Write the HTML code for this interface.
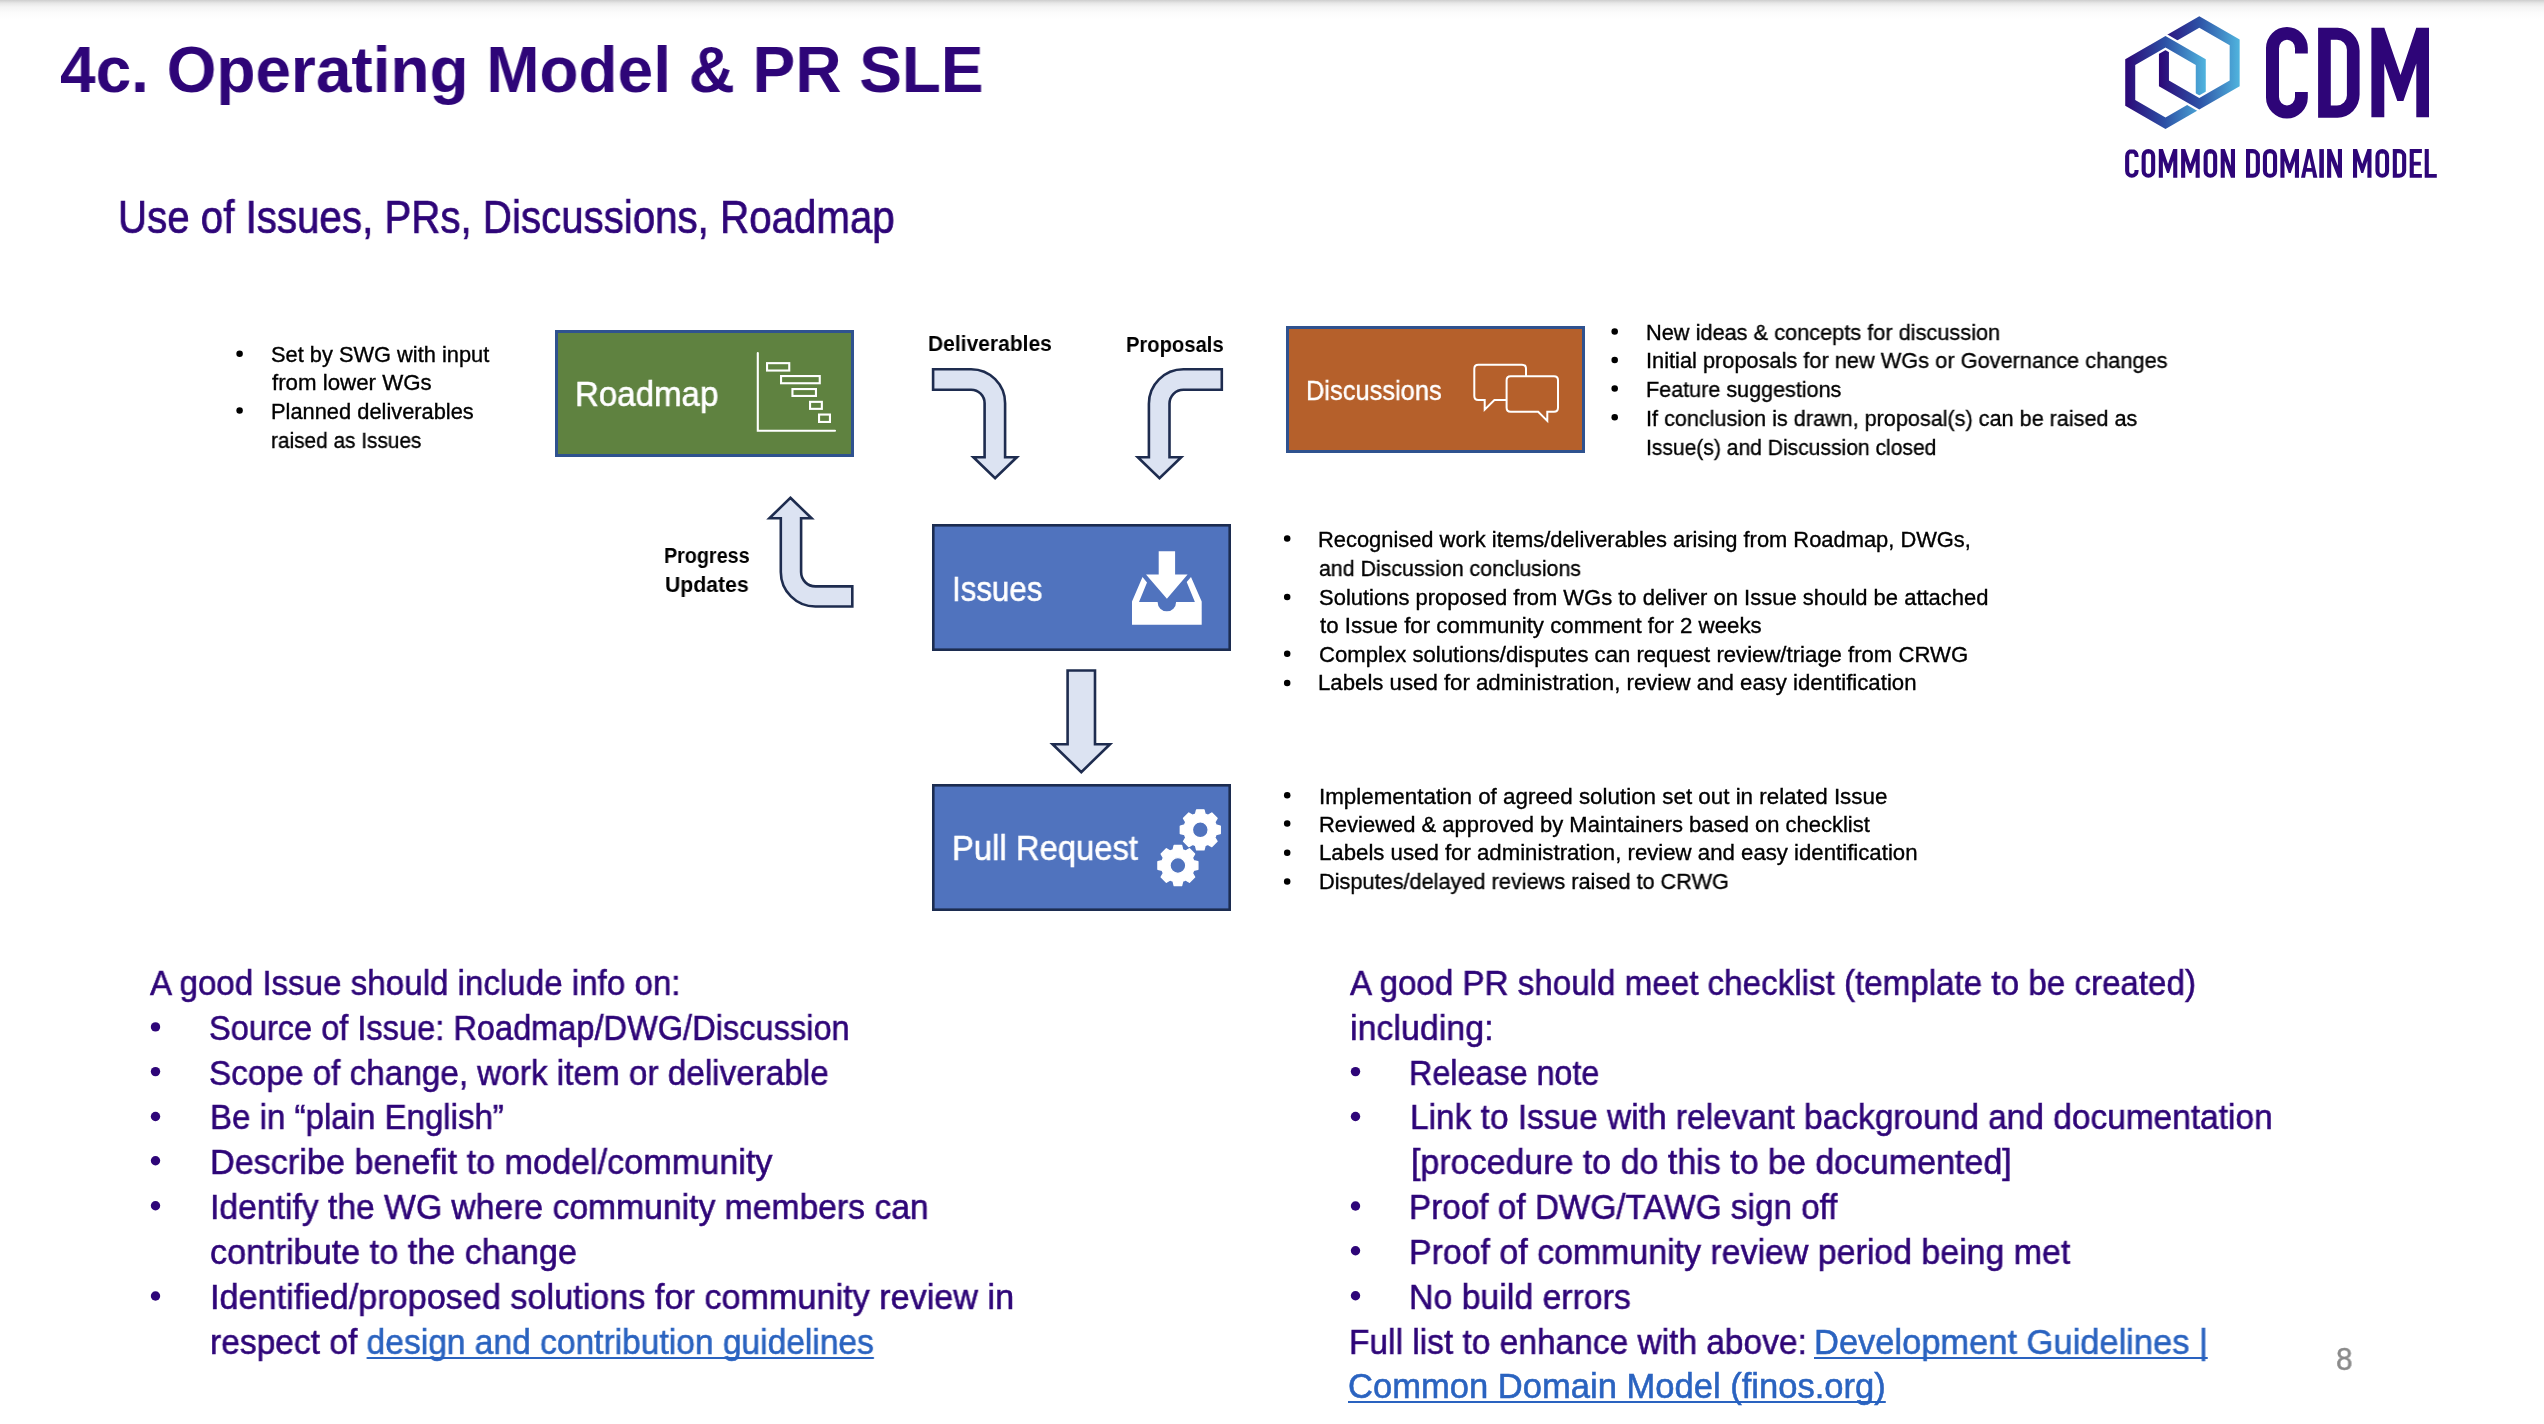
<!DOCTYPE html><html><head><meta charset="utf-8"><style>
html,body{margin:0;padding:0;background:#fff;}
body{width:2544px;height:1424px;overflow:hidden;position:relative;font-family:'Liberation Sans', sans-serif;}
.t{position:absolute;white-space:pre;transform-origin:0 0;will-change:transform;}
.lk{color:#2a63c0;text-decoration:underline;text-decoration-thickness:2px;text-underline-offset:3px;text-decoration-skip-ink:none;}
.b{position:absolute;border-radius:50%;}
#sh{position:absolute;left:0;top:0;width:2544px;height:20px;background:linear-gradient(#cdcdcd 0px,#e6e6e6 3px,#f4f4f4 7px,#fcfcfc 13px,#ffffff 20px);}
</style></head><body>
<div id="sh"></div>
<svg width="2544" height="1424" viewBox="0 0 2544 1424" style="position:absolute;left:0;top:0">
<defs>
<linearGradient id="g1" x1="0" y1="0" x2="1" y2="0"><stop offset="0" stop-color="#2c0777"/><stop offset="0.5" stop-color="#2d52a6"/><stop offset="1" stop-color="#50b4de"/></linearGradient>
<clipPath id="cpA"><polygon points="2150,20 2215,20 2215,75 2150,75"/></clipPath>
</defs>
<rect x="556.5" y="331.5" width="296" height="124" fill="#5f8240" stroke="#2f528f" stroke-width="3"/>
<rect x="1287.5" y="327.5" width="296" height="124" fill="#b5602b" stroke="#2f528f" stroke-width="3"/>
<rect x="933.3" y="525.3" width="296.4" height="124.4" fill="#5073be" stroke="#1c2c50" stroke-width="2.6"/>
<rect x="933.3" y="785.3" width="296.4" height="124.4" fill="#5073be" stroke="#1c2c50" stroke-width="2.6"/>
<path fill="#dce3f2" stroke="#1e2c4f" stroke-width="2.6" stroke-linejoin="miter" d="M 933.1 369.2 L 971.1 369.2 A 34 34 0 0 1 1005.1 403.2 L 1005.1 457.3 L 1016.8 457.3 L 995.1 478.3 L 973.4 457.3 L 984.6 457.3 L 984.6 403.2 A 13.5 13.5 0 0 0 971.1 389.7 L 933.1 389.7 Z"/>
<path fill="#dce3f2" stroke="#1e2c4f" stroke-width="2.6" stroke-linejoin="miter" d="M 1221.8 369.2 L 1183.4 369.2 A 34.5 34.5 0 0 0 1148.9 403.7 L 1148.9 457.3 L 1137.8 457.3 L 1159.5 478.3 L 1181.2 457.3 L 1169.5 457.3 L 1169.5 403.7 A 13.9 13.9 0 0 1 1183.4 389.7 L 1221.8 389.7 Z"/>
<path fill="#dce3f2" stroke="#1e2c4f" stroke-width="2.6" stroke-linejoin="miter" d="M 790.4 497.8 L 811.6 518.3 L 801.1 518.3 L 801.1 572.1 A 14.3 14.3 0 0 0 815.4 586.4 L 852.3 586.4 L 852.3 606.5 L 815.4 606.5 A 34.6 34.6 0 0 1 780.8 571.9 L 780.8 518.3 L 769.4 518.3 Z"/>
<path fill="#dce3f2" stroke="#1e2c4f" stroke-width="2.6" stroke-linejoin="miter" d="M 1067.6 670.5 L 1095 670.5 L 1095 744.3 L 1110 744.3 L 1081.3 772.1 L 1052.6 744.3 L 1067.6 744.3 Z"/>
<g fill="none" stroke="#fff" stroke-width="2.1">
<path d="M 757.8 353 V 430.8 H 835" stroke-linecap="round"/>
<rect x="767.05" y="363.15" width="22.20" height="7.40"/>
<rect x="781.05" y="376.05" width="38.70" height="7.20"/>
<rect x="792.45" y="389.05" width="23.50" height="6.90"/>
<rect x="810.05" y="401.85" width="11.80" height="7.00"/>
<rect x="819.05" y="414.55" width="10.90" height="7.40"/>
</g>
<g stroke="#fff" stroke-width="2" stroke-linejoin="miter">
<path fill="none" d="M 1478.3 364.7 H 1522 Q 1526 364.7 1526 368.7 V 396 Q 1526 400 1522 400 H 1494.4 L 1484.7 409.7 V 400 H 1478.3 Q 1474.3 400 1474.3 396 V 368.7 Q 1474.3 364.7 1478.3 364.7 Z"/>
<path fill="#b5602b" d="M 1510.6 376.2 H 1554 Q 1558 376.2 1558 380.2 V 407.8 Q 1558 411.8 1554 411.8 H 1547.3 V 420.9 L 1538.2 411.8 H 1510.6 Q 1506.6 411.8 1506.6 407.8 V 380.2 Q 1506.6 376.2 1510.6 376.2 Z"/>
</g>
<path fill="#fff" d="M 1158.7 551.2 H 1175.1 V 574.6 H 1187.6 L 1166.9 598.8 L 1146 574.6 H 1158.7 Z"/>
<path fill="#fff" d="M 1142.5 577.1 L 1132 601.6 V 624.8 H 1201.7 V 601.6 L 1191 577.1 L 1186.7 581.9 L 1194.9 602.1 H 1176.1 A 9.25 9.25 0 0 1 1157.6 602.1 H 1139 L 1147 582.5 Z"/>
<path fill="#fff" stroke="#fff" stroke-width="1.4" stroke-linejoin="round" fill-rule="evenodd" d="M 1194.02 814.65 L 1195.51 814.12 L 1196.60 809.84 L 1204.00 809.84 L 1205.09 814.12 L 1206.58 814.65 L 1208.00 815.32 L 1211.80 813.07 L 1217.03 818.30 L 1214.78 822.10 L 1215.45 823.52 L 1215.98 825.01 L 1220.26 826.10 L 1220.26 833.50 L 1215.98 834.59 L 1215.45 836.08 L 1214.78 837.50 L 1217.03 841.30 L 1211.80 846.53 L 1208.00 844.28 L 1206.58 844.95 L 1205.09 845.48 L 1204.00 849.76 L 1196.60 849.76 L 1195.51 845.48 L 1194.02 844.95 L 1192.60 844.28 L 1188.80 846.53 L 1183.57 841.30 L 1185.82 837.50 L 1185.15 836.08 L 1184.62 834.59 L 1180.34 833.50 L 1180.34 826.10 L 1184.62 825.01 L 1185.15 823.52 L 1185.82 822.10 L 1183.57 818.30 L 1188.80 813.07 L 1192.60 815.32 Z M 1208.20 829.80 A 7.9 7.9 0 1 0 1192.40 829.80 A 7.9 7.9 0 1 0 1208.20 829.80 Z"/>
<path fill="#fff" stroke="#fff" stroke-width="1.4" stroke-linejoin="round" fill-rule="evenodd" d="M 1171.62 850.35 L 1173.11 849.82 L 1174.20 845.54 L 1181.60 845.54 L 1182.69 849.82 L 1184.18 850.35 L 1185.60 851.02 L 1189.40 848.77 L 1194.63 854.00 L 1192.38 857.80 L 1193.05 859.22 L 1193.58 860.71 L 1197.86 861.80 L 1197.86 869.20 L 1193.58 870.29 L 1193.05 871.78 L 1192.38 873.20 L 1194.63 877.00 L 1189.40 882.23 L 1185.60 879.98 L 1184.18 880.65 L 1182.69 881.18 L 1181.60 885.46 L 1174.20 885.46 L 1173.11 881.18 L 1171.62 880.65 L 1170.20 879.98 L 1166.40 882.23 L 1161.17 877.00 L 1163.42 873.20 L 1162.75 871.78 L 1162.22 870.29 L 1157.94 869.20 L 1157.94 861.80 L 1162.22 860.71 L 1162.75 859.22 L 1163.42 857.80 L 1161.17 854.00 L 1166.40 848.77 L 1170.20 851.02 Z M 1185.80 865.50 A 7.9 7.9 0 1 0 1170.00 865.50 A 7.9 7.9 0 1 0 1185.80 865.50 Z"/>
<path fill="url(#g1)" fill-rule="evenodd" d="M 2165.50 36.00 L 2205.77 59.25 L 2205.77 105.75 L 2165.50 129.00 L 2125.23 105.75 L 2125.23 59.25 Z M 2135.23 65.02 L 2135.23 99.98 L 2165.50 117.45 L 2195.77 99.98 L 2195.77 65.02 L 2165.50 47.55 Z"/>
<path fill="url(#g1)" fill-rule="evenodd" stroke="#fff" stroke-width="4.4" paint-order="stroke" d="M 2199.30 16.30 L 2239.66 39.60 L 2239.66 86.20 L 2199.30 109.50 L 2158.94 86.20 L 2158.94 39.60 Z M 2168.94 45.37 L 2168.94 80.43 L 2199.30 97.95 L 2229.66 80.43 L 2229.66 45.37 L 2199.30 27.85 Z"/>
<g clip-path="url(#cpA)"><path fill="url(#g1)" fill-rule="evenodd" stroke="#fff" stroke-width="4.4" paint-order="stroke" d="M 2165.50 36.00 L 2205.77 59.25 L 2205.77 105.75 L 2165.50 129.00 L 2125.23 105.75 L 2125.23 59.25 Z M 2135.23 65.02 L 2135.23 99.98 L 2165.50 117.45 L 2195.77 99.98 L 2195.77 65.02 L 2165.50 47.55 Z"/></g>
<path fill="#2e0578" fill-rule="evenodd" d="M 2307.8 53.6 V 48 A 20.9 21 0 0 0 2266 48 V 97.5 A 20.9 21 0 0 0 2307.8 97.5 V 91.9 H 2295 V 97 A 8 8.5 0 0 1 2279 97 V 48.5 A 8 8.7 0 0 1 2295 48.5 V 53.6 Z"/>
<path fill="#2e0578" fill-rule="evenodd" d="M 2318.1 27.7 H 2337.6 A 22 23 0 0 1 2359.6 50.7 V 94.7 A 22 23 0 0 1 2337.6 117.7 H 2318.1 Z M 2330.8 39.8 H 2337 A 9.9 10 0 0 1 2346.9 49.8 V 95.5 A 9.9 10 0 0 1 2337 105.5 H 2330.8 Z"/>
<path fill="#2e0578" d="M 2371.4 117.3 V 27.7 H 2384.3 L 2400.5 74.9 L 2416.3 27.7 H 2429 V 117.3 H 2416.3 V 63.5 L 2403.4 101.1 H 2397.3 L 2384.3 63.5 V 117.3 Z"/>
<g fill="#2e0578" fill-rule="evenodd">
<path d="M 2138.6 156.9 V 155.9 A 6.8 6.8 0 0 0 2131.7999999999997 149.1 H 2131.9 A 6.8 6.8 0 0 0 2125.1 155.9 V 171.0 A 6.8 6.8 0 0 0 2131.9 177.8 H 2131.7999999999997 A 6.8 6.8 0 0 0 2138.6 171.0 V 170.1 H 2134.5 V 170.9 A 2.8 2.8 0 0 1 2131.7 173.70000000000002 H 2132.0 A 2.8 2.8 0 0 1 2129.2 170.9 V 156.0 A 2.8 2.8 0 0 1 2132.0 153.2 H 2131.7 A 2.8 2.8 0 0 1 2134.5 156.0 V 156.9 Z"/>
<path d="M 2148.4 149.1 H 2148.3999999999996 A 6.8 6.8 0 0 1 2155.2 155.9 V 171.0 A 6.8 6.8 0 0 1 2148.3999999999996 177.8 H 2148.4 A 6.8 6.8 0 0 1 2141.6 171.0 V 155.9 A 6.8 6.8 0 0 1 2148.4 149.1 Z M 2148.5 153.2 H 2148.2999999999997 A 2.8 2.8 0 0 1 2151.1 156.0 V 170.9 A 2.8 2.8 0 0 1 2148.2999999999997 173.70000000000002 H 2148.5 A 2.8 2.8 0 0 1 2145.7 170.9 V 156.0 A 2.8 2.8 0 0 1 2148.5 153.2 Z"/>
<path d="M 2158.8 177.8 V 149.1 H 2162.9 L 2168.05 164 L 2173.2000000000003 149.1 H 2177.3 V 177.8 H 2173.2000000000003 V 160.8 L 2169.05 172.9 H 2167.05 L 2162.9 160.8 V 177.8 Z"/>
<path d="M 2181.1 177.8 V 149.1 H 2185.2 L 2190.3999999999996 164 L 2195.6 149.1 H 2199.7 V 177.8 H 2195.6 V 160.8 L 2191.3999999999996 172.9 H 2189.3999999999996 L 2185.2 160.8 V 177.8 Z"/>
<path d="M 2210.4 149.1 H 2210.3999999999996 A 6.8 6.8 0 0 1 2217.2 155.9 V 171.0 A 6.8 6.8 0 0 1 2210.3999999999996 177.8 H 2210.4 A 6.8 6.8 0 0 1 2203.6 171.0 V 155.9 A 6.8 6.8 0 0 1 2210.4 149.1 Z M 2210.5 153.2 H 2210.2999999999997 A 2.8 2.8 0 0 1 2213.1 156.0 V 170.9 A 2.8 2.8 0 0 1 2210.2999999999997 173.70000000000002 H 2210.5 A 2.8 2.8 0 0 1 2207.7 170.9 V 156.0 A 2.8 2.8 0 0 1 2210.5 153.2 Z"/>
<path d="M 2220.7 177.8 V 149.1 H 2224.7999999999997 L 2230.9 166 V 149.1 H 2235 V 177.8 H 2230.9 L 2224.7999999999997 160.8 V 177.8 Z"/>
<path d="M 2246 149.1 H 2252.9 A 7.0 7.0 0 0 1 2259.9 156.1 V 170.8 A 7.0 7.0 0 0 1 2252.9 177.8 H 2246 Z M 2250.1 153.2 H 2252.8 A 3.0 3.0 0 0 1 2255.8 156.2 V 170.70000000000002 A 3.0 3.0 0 0 1 2252.8 173.70000000000002 H 2250.1 Z"/>
<path d="M 2269.7000000000003 149.1 H 2270.2999999999997 A 6.8 6.8 0 0 1 2277.1 155.9 V 171.0 A 6.8 6.8 0 0 1 2270.2999999999997 177.8 H 2269.7000000000003 A 6.8 6.8 0 0 1 2262.9 171.0 V 155.9 A 6.8 6.8 0 0 1 2269.7000000000003 149.1 Z M 2269.8 153.2 H 2270.2 A 2.8 2.8 0 0 1 2273.0 156.0 V 170.9 A 2.8 2.8 0 0 1 2270.2 173.70000000000002 H 2269.8 A 2.8 2.8 0 0 1 2267.0 170.9 V 156.0 A 2.8 2.8 0 0 1 2269.8 153.2 Z"/>
<path d="M 2280.4 177.8 V 149.1 H 2284.5 L 2289.7 164 L 2294.9 149.1 H 2299 V 177.8 H 2294.9 V 160.8 L 2290.7 172.9 H 2288.7 L 2284.5 160.8 V 177.8 Z"/>
<path d="M 2301 177.8 L 2307.3999999999996 149.1 H 2311.0 L 2317.4 177.8 H 2313.3 L 2312.2000000000003 171.8 H 2306.1 L 2305.1 177.8 Z M 2309.2 157.3 L 2311.6 167.9 H 2306.8999999999996 Z"/>
<path d="M 2319.3 149.1 H 2323.9 V 177.8 H 2319.3 Z"/>
<path d="M 2327.1 177.8 V 149.1 H 2331.2 L 2337.9 166 V 149.1 H 2342 V 177.8 H 2337.9 L 2331.2 160.8 V 177.8 Z"/>
<path d="M 2353 177.8 V 149.1 H 2357.1 L 2362.25 164 L 2367.4 149.1 H 2371.5 V 177.8 H 2367.4 V 160.8 L 2363.25 172.9 H 2361.25 L 2357.1 160.8 V 177.8 Z"/>
<path d="M 2382.2000000000003 149.1 H 2382.2999999999997 A 6.8 6.8 0 0 1 2389.1 155.9 V 171.0 A 6.8 6.8 0 0 1 2382.2999999999997 177.8 H 2382.2000000000003 A 6.8 6.8 0 0 1 2375.4 171.0 V 155.9 A 6.8 6.8 0 0 1 2382.2000000000003 149.1 Z M 2382.3 153.2 H 2382.2 A 2.8 2.8 0 0 1 2385.0 156.0 V 170.9 A 2.8 2.8 0 0 1 2382.2 173.70000000000002 H 2382.3 A 2.8 2.8 0 0 1 2379.5 170.9 V 156.0 A 2.8 2.8 0 0 1 2382.3 153.2 Z"/>
<path d="M 2392.8 149.1 H 2399.2 A 7.0 7.0 0 0 1 2406.2 156.1 V 170.8 A 7.0 7.0 0 0 1 2399.2 177.8 H 2392.8 Z M 2396.9 153.2 H 2399.1 A 3.0 3.0 0 0 1 2402.1 156.2 V 170.70000000000002 A 3.0 3.0 0 0 1 2399.1 173.70000000000002 H 2396.9 Z"/>
<path d="M 2409.7 149.1 H 2421.9 V 152.9 H 2413.7999999999997 V 161.8 H 2420.8 V 165.4 H 2413.7999999999997 V 174.1 H 2421.9 V 177.8 H 2409.7 Z"/>
<path d="M 2424.7 149.1 H 2428.7999999999997 V 174.1 H 2436.8 V 177.8 H 2424.7 Z"/>
</g>
</svg>
<div class="t" style="left:59.82px;top:36.70px;font-size:65px;line-height:65px;font-weight:bold;color:#2e0578;transform:scaleX(0.9834);">4c. Operating Model &amp; PR SLE</div>
<div class="t" style="left:117.67px;top:193.80px;font-size:46px;line-height:46px;font-weight:normal;color:#2e0578;transform:scaleX(0.8755);-webkit-text-stroke:0.736px currentColor;">Use of Issues, PRs, Discussions, Roadmap</div>
<div class="t" style="left:270.83px;top:343.74px;font-size:21.8px;line-height:21.8px;font-weight:normal;color:#000000;transform:scaleX(1.0008);-webkit-text-stroke:0.349px currentColor;">Set by SWG with input</div>
<div class="t" style="left:271.94px;top:371.74px;font-size:21.8px;line-height:21.8px;font-weight:normal;color:#000000;transform:scaleX(1.0221);-webkit-text-stroke:0.349px currentColor;">from lower WGs</div>
<div class="t" style="left:271.13px;top:400.94px;font-size:21.8px;line-height:21.8px;font-weight:normal;color:#000000;transform:scaleX(1.0021);-webkit-text-stroke:0.349px currentColor;">Planned deliverables</div>
<div class="t" style="left:271.07px;top:429.84px;font-size:21.8px;line-height:21.8px;font-weight:normal;color:#000000;transform:scaleX(0.9552);-webkit-text-stroke:0.349px currentColor;">raised as Issues</div>
<div class="t" style="left:1646.04px;top:322.04px;font-size:21.8px;line-height:21.8px;font-weight:normal;color:#000000;transform:scaleX(0.9978);-webkit-text-stroke:0.349px currentColor;">New ideas &amp; concepts for discussion</div>
<div class="t" style="left:1645.90px;top:350.44px;font-size:21.8px;line-height:21.8px;font-weight:normal;color:#000000;transform:scaleX(0.9988);-webkit-text-stroke:0.349px currentColor;">Initial proposals for new WGs or Governance changes</div>
<div class="t" style="left:1646.05px;top:379.04px;font-size:21.8px;line-height:21.8px;font-weight:normal;color:#000000;transform:scaleX(0.9893);-webkit-text-stroke:0.349px currentColor;">Feature suggestions</div>
<div class="t" style="left:1645.91px;top:407.84px;font-size:21.8px;line-height:21.8px;font-weight:normal;color:#000000;transform:scaleX(0.9916);-webkit-text-stroke:0.349px currentColor;">If conclusion is drawn, proposal(s) can be raised as</div>
<div class="t" style="left:1645.96px;top:436.74px;font-size:21.8px;line-height:21.8px;font-weight:normal;color:#000000;transform:scaleX(0.9665);-webkit-text-stroke:0.349px currentColor;">Issue(s) and Discussion closed</div>
<div class="t" style="left:1318.43px;top:528.94px;font-size:21.8px;line-height:21.8px;font-weight:normal;color:#000000;transform:scaleX(1.0036);-webkit-text-stroke:0.349px currentColor;">Recognised work items/deliverables arising from Roadmap, DWGs,</div>
<div class="t" style="left:1319.36px;top:557.74px;font-size:21.8px;line-height:21.8px;font-weight:normal;color:#000000;transform:scaleX(0.9786);-webkit-text-stroke:0.349px currentColor;">and Discussion conclusions</div>
<div class="t" style="left:1318.92px;top:586.64px;font-size:21.8px;line-height:21.8px;font-weight:normal;color:#000000;transform:scaleX(1.0083);-webkit-text-stroke:0.349px currentColor;">Solutions proposed from WGs to deliver on Issue should be attached</div>
<div class="t" style="left:1319.81px;top:615.34px;font-size:21.8px;line-height:21.8px;font-weight:normal;color:#000000;transform:scaleX(1.0214);-webkit-text-stroke:0.349px currentColor;">to Issue for community comment for 2 weeks</div>
<div class="t" style="left:1318.96px;top:643.84px;font-size:21.8px;line-height:21.8px;font-weight:normal;color:#000000;transform:scaleX(1.0155);-webkit-text-stroke:0.349px currentColor;">Complex solutions/disputes can request review/triage from CRWG</div>
<div class="t" style="left:1318.40px;top:672.44px;font-size:21.8px;line-height:21.8px;font-weight:normal;color:#000000;transform:scaleX(1.0185);-webkit-text-stroke:0.349px currentColor;">Labels used for administration, review and easy identification</div>
<div class="t" style="left:1318.54px;top:785.74px;font-size:21.8px;line-height:21.8px;font-weight:normal;color:#000000;transform:scaleX(1.0264);-webkit-text-stroke:0.349px currentColor;">Implementation of agreed solution set out in related Issue</div>
<div class="t" style="left:1318.72px;top:814.04px;font-size:21.8px;line-height:21.8px;font-weight:normal;color:#000000;transform:scaleX(1.0080);-webkit-text-stroke:0.349px currentColor;">Reviewed &amp; approved by Maintainers based on checklist</div>
<div class="t" style="left:1318.70px;top:842.44px;font-size:21.8px;line-height:21.8px;font-weight:normal;color:#000000;transform:scaleX(1.0185);-webkit-text-stroke:0.349px currentColor;">Labels used for administration, review and easy identification</div>
<div class="t" style="left:1318.74px;top:871.14px;font-size:21.8px;line-height:21.8px;font-weight:normal;color:#000000;transform:scaleX(0.9962);-webkit-text-stroke:0.349px currentColor;">Disputes/delayed reviews raised to CRWG</div>
<div class="t" style="left:928.36px;top:333.00px;font-size:21.9px;line-height:21.9px;font-weight:bold;color:#000000;transform:scaleX(0.9599);">Deliverables</div>
<div class="t" style="left:1125.52px;top:333.50px;font-size:21.9px;line-height:21.9px;font-weight:bold;color:#000000;transform:scaleX(0.9221);">Proposals</div>
<div class="t" style="left:663.85px;top:544.80px;font-size:21.9px;line-height:21.9px;font-weight:bold;color:#000000;transform:scaleX(0.9020);">Progress</div>
<div class="t" style="left:664.89px;top:573.80px;font-size:21.9px;line-height:21.9px;font-weight:bold;color:#000000;transform:scaleX(0.9687);">Updates</div>
<div class="t" style="left:574.93px;top:376.80px;font-size:34.3px;line-height:34.3px;font-weight:normal;color:#ffffff;transform:scaleX(0.9635);-webkit-text-stroke:0.549px currentColor;">Roadmap</div>
<div class="t" style="left:1305.78px;top:376.90px;font-size:27.5px;line-height:27.5px;font-weight:normal;color:#ffffff;transform:scaleX(0.9248);-webkit-text-stroke:0.440px currentColor;">Discussions</div>
<div class="t" style="left:951.95px;top:572.00px;font-size:34.9px;line-height:34.9px;font-weight:normal;color:#ffffff;transform:scaleX(0.8961);-webkit-text-stroke:0.558px currentColor;">Issues</div>
<div class="t" style="left:951.84px;top:830.90px;font-size:34.2px;line-height:34.2px;font-weight:normal;color:#ffffff;transform:scaleX(0.9596);-webkit-text-stroke:0.547px currentColor;">Pull Request</div>
<div class="t" style="left:149.89px;top:966.10px;font-size:34.5px;line-height:34.5px;font-weight:normal;color:#2e0578;transform:scaleX(0.9603);-webkit-text-stroke:0.552px currentColor;">A good Issue should include info on:</div>
<div class="t" style="left:208.68px;top:1010.60px;font-size:34.5px;line-height:34.5px;font-weight:normal;color:#2e0578;transform:scaleX(0.9438);-webkit-text-stroke:0.552px currentColor;">Source of Issue: Roadmap/DWG/Discussion</div>
<div class="t" style="left:208.64px;top:1055.50px;font-size:34.5px;line-height:34.5px;font-weight:normal;color:#2e0578;transform:scaleX(0.9647);-webkit-text-stroke:0.552px currentColor;">Scope of change, work item or deliverable</div>
<div class="t" style="left:209.73px;top:1100.40px;font-size:34.5px;line-height:34.5px;font-weight:normal;color:#2e0578;transform:scaleX(0.9576);-webkit-text-stroke:0.552px currentColor;">Be in “plain English”</div>
<div class="t" style="left:209.63px;top:1145.30px;font-size:34.5px;line-height:34.5px;font-weight:normal;color:#2e0578;transform:scaleX(0.9910);-webkit-text-stroke:0.552px currentColor;">Describe benefit to model/community</div>
<div class="t" style="left:209.61px;top:1190.20px;font-size:34.5px;line-height:34.5px;font-weight:normal;color:#2e0578;transform:scaleX(0.9761);-webkit-text-stroke:0.552px currentColor;">Identify the WG where community members can</div>
<div class="t" style="left:209.51px;top:1235.00px;font-size:34.5px;line-height:34.5px;font-weight:normal;color:#2e0578;transform:scaleX(0.9913);-webkit-text-stroke:0.552px currentColor;">contribute to the change</div>
<div class="t" style="left:209.56px;top:1280.00px;font-size:34.5px;line-height:34.5px;font-weight:normal;color:#2e0578;transform:scaleX(0.9913);-webkit-text-stroke:0.552px currentColor;">Identified/proposed solutions for community review in</div>
<div class="t" style="left:209.51px;top:1324.90px;font-size:34.5px;line-height:34.5px;font-weight:normal;color:#2e0578;transform:scaleX(0.9723);-webkit-text-stroke:0.552px currentColor;">respect of <span class="lk">design and contribution guidelines</span></div>
<div class="t" style="left:1349.89px;top:966.00px;font-size:34.5px;line-height:34.5px;font-weight:normal;color:#2e0578;transform:scaleX(0.9611);-webkit-text-stroke:0.552px currentColor;">A good PR should meet checklist (template to be created)</div>
<div class="t" style="left:1349.85px;top:1010.60px;font-size:34.5px;line-height:34.5px;font-weight:normal;color:#2e0578;transform:scaleX(0.9847);-webkit-text-stroke:0.552px currentColor;">including:</div>
<div class="t" style="left:1409.38px;top:1055.50px;font-size:34.5px;line-height:34.5px;font-weight:normal;color:#2e0578;transform:scaleX(0.9366);-webkit-text-stroke:0.552px currentColor;">Release note</div>
<div class="t" style="left:1409.69px;top:1100.40px;font-size:34.5px;line-height:34.5px;font-weight:normal;color:#2e0578;transform:scaleX(0.9694);-webkit-text-stroke:0.552px currentColor;">Link to Issue with relevant background and documentation</div>
<div class="t" style="left:1411.24px;top:1145.30px;font-size:34.5px;line-height:34.5px;font-weight:normal;color:#2e0578;transform:scaleX(0.9848);-webkit-text-stroke:0.552px currentColor;">[procedure to do this to be documented]</div>
<div class="t" style="left:1409.31px;top:1190.20px;font-size:34.5px;line-height:34.5px;font-weight:normal;color:#2e0578;transform:scaleX(0.9649);-webkit-text-stroke:0.552px currentColor;">Proof of DWG/TAWG sign off</div>
<div class="t" style="left:1409.26px;top:1235.10px;font-size:34.5px;line-height:34.5px;font-weight:normal;color:#2e0578;transform:scaleX(0.9825);-webkit-text-stroke:0.552px currentColor;">Proof of community review period being met</div>
<div class="t" style="left:1409.26px;top:1280.00px;font-size:34.5px;line-height:34.5px;font-weight:normal;color:#2e0578;transform:scaleX(0.9804);-webkit-text-stroke:0.552px currentColor;">No build errors</div>
<div class="t" style="left:1349.09px;top:1324.80px;font-size:34.5px;line-height:34.5px;font-weight:normal;color:#2e0578;transform:scaleX(0.9705);-webkit-text-stroke:0.552px currentColor;">Full list to enhance with above:</div>
<div class="t" style="left:1814.11px;top:1324.80px;font-size:34.5px;line-height:34.5px;font-weight:normal;color:#2e0578;transform:scaleX(0.9987);-webkit-text-stroke:0.552px currentColor;"><span class="lk">Development Guidelines |</span></div>
<div class="t" style="left:1348.43px;top:1369.20px;font-size:34.5px;line-height:34.5px;font-weight:normal;color:#2e0578;transform:scaleX(1.0017);-webkit-text-stroke:0.552px currentColor;"><span class="lk">Common Domain Model (finos.org)</span></div>
<div class="t" style="left:2335.83px;top:1343.90px;font-size:30.5px;line-height:30.5px;font-weight:normal;color:#8a8a8a;transform:scaleX(0.9730);-webkit-text-stroke:0.488px currentColor;">8</div>
<svg width="2544" height="1424" style="position:absolute;left:0;top:0">
<circle cx="239.60" cy="353.70" r="3.25" fill="#000000"/>
<circle cx="239.60" cy="410.40" r="3.25" fill="#000000"/>
<circle cx="1614.70" cy="331.50" r="3.25" fill="#000000"/>
<circle cx="1614.70" cy="359.90" r="3.25" fill="#000000"/>
<circle cx="1614.70" cy="388.50" r="3.25" fill="#000000"/>
<circle cx="1614.70" cy="417.30" r="3.25" fill="#000000"/>
<circle cx="1287.20" cy="538.60" r="3.25" fill="#000000"/>
<circle cx="1287.20" cy="597.10" r="3.25" fill="#000000"/>
<circle cx="1287.20" cy="653.80" r="3.25" fill="#000000"/>
<circle cx="1287.20" cy="682.90" r="3.25" fill="#000000"/>
<circle cx="1287.20" cy="795.30" r="3.25" fill="#000000"/>
<circle cx="1287.20" cy="823.60" r="3.25" fill="#000000"/>
<circle cx="1287.20" cy="852.70" r="3.25" fill="#000000"/>
<circle cx="1287.20" cy="881.40" r="3.25" fill="#000000"/>
<circle cx="155.50" cy="1026.90" r="4.70" fill="#2e0578"/>
<circle cx="155.50" cy="1071.60" r="4.70" fill="#2e0578"/>
<circle cx="155.50" cy="1116.50" r="4.70" fill="#2e0578"/>
<circle cx="155.50" cy="1160.80" r="4.70" fill="#2e0578"/>
<circle cx="155.50" cy="1205.70" r="4.70" fill="#2e0578"/>
<circle cx="155.50" cy="1296.00" r="4.70" fill="#2e0578"/>
<circle cx="1355.50" cy="1071.60" r="4.70" fill="#2e0578"/>
<circle cx="1355.50" cy="1116.50" r="4.70" fill="#2e0578"/>
<circle cx="1355.50" cy="1206.00" r="4.70" fill="#2e0578"/>
<circle cx="1355.50" cy="1250.80" r="4.70" fill="#2e0578"/>
<circle cx="1355.50" cy="1295.70" r="4.70" fill="#2e0578"/>
</svg>
</body></html>
